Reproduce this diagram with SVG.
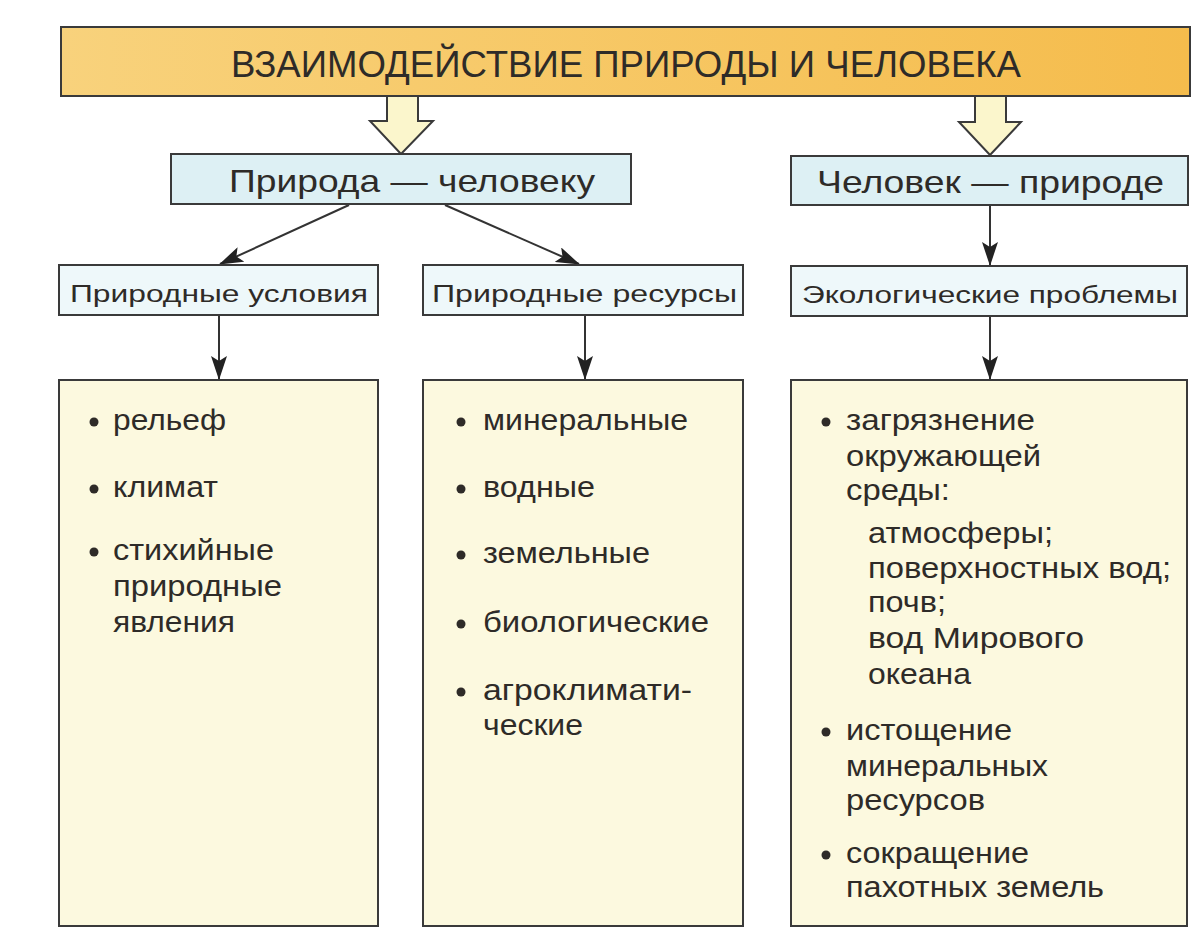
<svg xmlns="http://www.w3.org/2000/svg" width="1200" height="933" viewBox="0 0 1200 933">
<style>
.box{stroke:#3a3a3a;stroke-width:2}
.title{fill:url(#gTitle)}
.lvl1{fill:#ddf0f4}
.lvl2{fill:#eef8fa}
.content{fill:#fcf9df}
.hollow{fill:#fbf6cc;stroke:#3a3a3a;stroke-width:2;stroke-linejoin:miter}
.conn{stroke:#333;stroke-width:2;fill:none;marker-end:url(#ah)}
text{font-family:"Liberation Sans",Arial,sans-serif;fill:#2e2b28}
.t0{font-size:37px}
.t1{font-size:32px}
.t2{font-size:24.5px}
.it{font-size:29px}
.bul{fill:#2e2b28}
</style>
<defs>
<linearGradient id="gTitle" x1="0" y1="0" x2="1" y2="0">
<stop offset="0" stop-color="#f8d27c"/>
<stop offset="1" stop-color="#f5bc4c"/>
</linearGradient>
<marker id="ah" viewBox="0 0 24 16" refX="23" refY="8" markerWidth="24" markerHeight="16" markerUnits="userSpaceOnUse" orient="auto">
<path d="M0,0 L24,8 L0,16 L5,8 Z" fill="#222"/>
</marker>
</defs>
<rect width="1200" height="933" fill="#ffffff"/>

<g id="connectors">
<path class="hollow" d="M387,96 V121 H370 L401,154 L433,121 H418 V96 Z"/>
<path class="hollow" d="M975,96 V122 H959 L990,155 L1021,122 H1006 V96 Z"/>
<line class="conn" x1="349" y1="205" x2="220" y2="264"/>
<line class="conn" x1="445" y1="205" x2="579" y2="264"/>
<line class="conn" x1="990" y1="206" x2="990" y2="265"/>
<line class="conn" x1="219" y1="316" x2="219" y2="379"/>
<line class="conn" x1="585" y1="316" x2="585" y2="379"/>
<line class="conn" x1="990" y1="317" x2="990" y2="379"/>
</g>

<g id="title">
<rect class="box title" x="61" y="27" width="1129" height="69"/>
<text class="t0" x="626" y="77" text-anchor="middle" textLength="790" lengthAdjust="spacingAndGlyphs">ВЗАИМОДЕЙСТВИЕ ПРИРОДЫ И ЧЕЛОВЕКА</text>
</g>

<g id="nature-to-man">
<rect class="box lvl1" x="171" y="154" width="460" height="50"/>
<text class="t1" x="229" y="192" textLength="366" lengthAdjust="spacingAndGlyphs">Природа — человеку</text>
</g>

<g id="man-to-nature">
<rect class="box lvl1" x="791" y="156" width="397" height="49"/>
<text class="t1" x="817" y="193" textLength="347" lengthAdjust="spacingAndGlyphs">Человек — природе</text>
</g>

<g id="conditions">
<rect class="box lvl2" x="59" y="265" width="319" height="50"/>
<text class="t2" x="70" y="302" textLength="298" lengthAdjust="spacingAndGlyphs">Природные условия</text>
</g>

<g id="resources">
<rect class="box lvl2" x="423" y="265" width="320" height="50"/>
<text class="t2" x="432" y="302" textLength="305" lengthAdjust="spacingAndGlyphs">Природные ресурсы</text>
</g>

<g id="problems">
<rect class="box lvl2" x="791" y="266" width="396" height="50"/>
<text class="t2" x="802" y="303" textLength="376" lengthAdjust="spacingAndGlyphs">Экологические проблемы</text>
</g>

<g id="conditions-list">
<rect class="box content" x="59" y="380" width="319" height="546"/>
<circle class="bul" cx="94" cy="422" r="4.5"/>
<text class="it" x="113" y="430" textLength="113" lengthAdjust="spacingAndGlyphs">рельеф</text>
<circle class="bul" cx="94" cy="489" r="4.5"/>
<text class="it" x="113" y="497" textLength="105" lengthAdjust="spacingAndGlyphs">климат</text>
<circle class="bul" cx="94" cy="552" r="4.5"/>
<text class="it" x="113" y="560" textLength="161" lengthAdjust="spacingAndGlyphs">стихийные</text>
<text class="it" x="113" y="596" textLength="169" lengthAdjust="spacingAndGlyphs">природные</text>
<text class="it" x="113" y="632" textLength="122" lengthAdjust="spacingAndGlyphs">явления</text>
</g>

<g id="resources-list">
<rect class="box content" x="423" y="380" width="320" height="546"/>
<circle class="bul" cx="461" cy="422" r="4.5"/>
<text class="it" x="483" y="430" textLength="205" lengthAdjust="spacingAndGlyphs">минеральные</text>
<circle class="bul" cx="461" cy="489" r="4.5"/>
<text class="it" x="483" y="497" textLength="112" lengthAdjust="spacingAndGlyphs">водные</text>
<circle class="bul" cx="461" cy="555" r="4.5"/>
<text class="it" x="483" y="563" textLength="167" lengthAdjust="spacingAndGlyphs">земельные</text>
<circle class="bul" cx="461" cy="624" r="4.5"/>
<text class="it" x="483" y="632" textLength="226" lengthAdjust="spacingAndGlyphs">биологические</text>
<circle class="bul" cx="461" cy="692" r="4.5"/>
<text class="it" x="483" y="700" textLength="209" lengthAdjust="spacingAndGlyphs">агроклимати-</text>
<text class="it" x="483" y="735" textLength="100" lengthAdjust="spacingAndGlyphs">ческие</text>
</g>

<g id="problems-list">
<rect class="box content" x="791" y="380" width="396" height="546"/>
<circle class="bul" cx="826" cy="422" r="4.5"/>
<text class="it" x="846" y="430" textLength="189" lengthAdjust="spacingAndGlyphs">загрязнение</text>
<text class="it" x="846" y="466" textLength="195" lengthAdjust="spacingAndGlyphs">окружающей</text>
<text class="it" x="846" y="500" textLength="104" lengthAdjust="spacingAndGlyphs">среды:</text>
<text class="it" x="868" y="543" textLength="185" lengthAdjust="spacingAndGlyphs">атмосферы;</text>
<text class="it" x="868" y="578" textLength="303" lengthAdjust="spacingAndGlyphs">поверхностных вод;</text>
<text class="it" x="868" y="612" textLength="78" lengthAdjust="spacingAndGlyphs">почв;</text>
<text class="it" x="868" y="648" textLength="216" lengthAdjust="spacingAndGlyphs">вод Мирового</text>
<text class="it" x="868" y="684" textLength="103" lengthAdjust="spacingAndGlyphs">океана</text>
<circle class="bul" cx="826" cy="732" r="4.5"/>
<text class="it" x="846" y="740" textLength="166" lengthAdjust="spacingAndGlyphs">истощение</text>
<text class="it" x="846" y="776" textLength="202" lengthAdjust="spacingAndGlyphs">минеральных</text>
<text class="it" x="846" y="810" textLength="139" lengthAdjust="spacingAndGlyphs">ресурсов</text>
<circle class="bul" cx="826" cy="855" r="4.5"/>
<text class="it" x="846" y="863" textLength="183" lengthAdjust="spacingAndGlyphs">сокращение</text>
<text class="it" x="846" y="897" textLength="258" lengthAdjust="spacingAndGlyphs">пахотных земель</text>
</g>
</svg>
